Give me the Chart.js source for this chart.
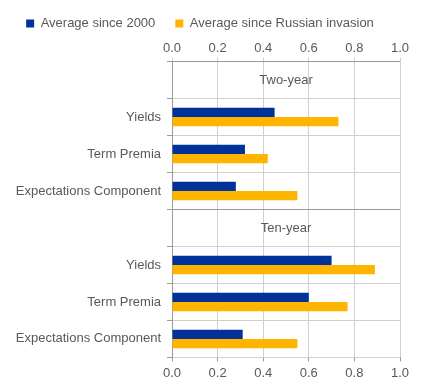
<!DOCTYPE html>
<html>
<head>
<meta charset="utf-8">
<script src="https://cdn.jsdelivr.net/npm/chart.js@4/dist/chart.umd.min.js"></script>
<style>
    html, body { margin: 0; padding: 0; background: #fff; }
    #wrap { width: 431px; height: 385px; }
</style>
</head>
<body>
<div id="wrap"><canvas id="chart"></canvas></div>
<script>
// ===== DATA =====
const panelTitles = ['Two-year', 'Ten-year'];
const components = ['Yields', 'Term Premia', 'Expectations Component'];
const twoYearSince2000 = [0.45, 0.32, 0.28];
const twoYearSinceInvasion = [0.73, 0.42, 0.55];
const tenYearSince2000 = [0.70, 0.60, 0.31];
const tenYearSinceInvasion = [0.89, 0.77, 0.55];
const xTicks = [0, 0.2, 0.4, 0.6, 0.8, 1.0];

const TEXT = '#595959';
const GRID = '#d0d0d0';
const AXIS = '#9a9a9a';
const FONT = { family: 'Liberation Sans, Arial, sans-serif', size: 13 };

// Each panel gets an empty header row for its title
const labels = ['', ...components, '', ...components];
const since2000 = [null, ...twoYearSince2000, null, ...tenYearSince2000];
const sinceInvasion = [null, ...twoYearSinceInvasion, null, ...tenYearSinceInvasion];
const headerRows = [0, components.length + 1];

// Draw panel titles in their header rows
const panelTitlePlugin = {
    id: 'panelTitles',
    afterDatasetsDraw(chart) {
        const { ctx, chartArea, scales } = chart;
        ctx.save();
        ctx.fillStyle = TEXT;
        ctx.font = `${FONT.size}px ${FONT.family}`;
        ctx.textAlign = 'center';
        ctx.textBaseline = 'middle';
        headerRows.forEach((row, i) => {
            ctx.fillText(panelTitles[i], (chartArea.left + chartArea.right) / 2, scales.y.getPixelForValue(row));
        });
        ctx.restore();
    }
};

const xRange = {
    min: xTicks[0],
    max: xTicks[xTicks.length - 1]
};
const xStep = xTicks[1] - xTicks[0];

new Chart(document.getElementById('chart'), {
    type: 'bar',
    data: {
        labels: labels,
        datasets: [
            {
                label: 'Average since 2000',
                data: since2000,
                backgroundColor: '#003299',
                categoryPercentage: 0.5,
                barPercentage: 1.0
            },
            {
                label: 'Average since Russian invasion',
                data: sinceInvasion,
                backgroundColor: '#FFB400',
                categoryPercentage: 0.5,
                barPercentage: 1.0
            }
        ]
    },
    options: {
        indexAxis: 'y',
        responsive: true,
        maintainAspectRatio: false,
        animation: false,
        layout: { padding: { top: -3, right: 31, left: 0, bottom: 0 } },
        plugins: {
            legend: {
                position: 'top',
                labels: {
                    boxWidth: 8,
                    boxHeight: 8,
                    padding: 20,
                    color: TEXT,
                    font: FONT
                }
            },
            tooltip: { enabled: false }
        },
        scales: {
            x: {
                type: 'linear',
                position: 'bottom',
                ...xRange,
                ticks: { stepSize: xStep, color: TEXT, font: FONT, padding: 4, callback: v => v.toFixed(1) },
                grid: { color: GRID, tickColor: AXIS, tickLength: 4 },
                border: { display: false }
            },
            x2: {
                type: 'linear',
                position: 'top',
                ...xRange,
                ticks: { stepSize: xStep, color: TEXT, font: FONT, padding: 1, callback: v => v.toFixed(1) },
                grid: { drawOnChartArea: false, tickColor: GRID, tickLength: 4 },
                border: { display: false }
            },
            y: {
                afterFit: scale => { scale.width = 172; },
                ticks: { color: TEXT, font: FONT, padding: 6 },
                grid: {
                    offset: true,
                    color: ctx => (ctx.index % 4 === 0) ? AXIS : GRID,
                    tickColor: AXIS,
                    tickLength: 5
                },
                border: { color: AXIS }
            }
        }
    },
    plugins: [panelTitlePlugin]
});
</script>
</body>
</html>
